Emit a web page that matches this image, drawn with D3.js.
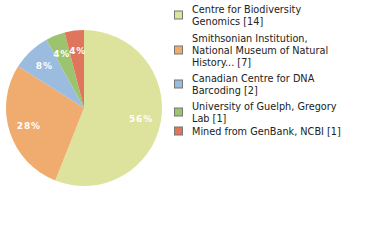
<!DOCTYPE html>
<html>
<head>
<meta charset="utf-8">
<script src="https://cdn.jsdelivr.net/npm/d3@7"></script>
<style>
  body { margin: 0; background: #fff; }
</style>
</head>
<body>
<div id="chart"></div>
<script>
// institutions and record counts
const labels = [
  ["Centre for Biodiversity", "Genomics [14]"],
  ["Smithsonian Institution,", "National Museum of Natural", "History... [7]"],
  ["Canadian Centre for DNA", "Barcoding [2]"],
  ["University of Guelph, Gregory", "Lab [1]"],
  ["Mined from GenBank, NCBI [1]"]
];
const counts = [14, 7, 2, 1, 1];
const colors = ["#dde29d", "#f0ac6e", "#9bbbdf", "#9cc46e", "#de755c"];

const width = 380, height = 240;
const cx = 84, cy = 108, radius = 78;

let svg = d3.select("#chart")
    .append("svg")
    .attr("width", width)
    .attr("height", height);

let g = svg.append("g")
    .attr("transform", `translate(${cx},${cy})`);

let pie = d3.pie().sort(null).value(function(d){ return d; });
let arcs = pie(counts);
let total = d3.sum(counts);

let arc = d3.arc().innerRadius(0).outerRadius(radius);
let labelArc = d3.arc().innerRadius(58).outerRadius(58);

g.selectAll("path")
    .data(arcs)
    .enter()
    .append("path")
    .attr("d", arc)
    .attr("fill", function(d, i){ return colors[i]; });

// label positions, small slices pushed apart a bit so they don't collide
let pos = arcs.map(function(d){ return labelArc.centroid(d); });
for (let i = 1; i < pos.length; i++) {
    let dx = pos[i][0] - pos[i-1][0], dy = pos[i][1] - pos[i-1][1];
    if (Math.abs(dx) < 16 && Math.abs(dy) < 10) {
        let push = (16 - Math.abs(dx)) / 2;
        pos[i-1][0] -= push;
        pos[i][0] += push;
    }
}

g.selectAll("text")
    .data(arcs)
    .enter()
    .append("text")
    .attr("transform", function(d, i){ return `translate(${pos[i]})`; })
    .attr("dy", "0.35em")
    .style("text-anchor", "middle")
    .style("font-family", "DejaVu Sans")
    .style("font-size", "9px")
    .style("font-weight", "bold")
    .style("letter-spacing", "0.8px")
    .style("fill", "#fff")
    .text(function(d){ return Math.round(d.value / total * 100) + "%"; });

// legend
let legendTop = [9, 38, 78, 106, 131];
let legend = svg.append("g");

labels.forEach(function(lines, i){
    let n = lines.length;
    let midY = legendTop[i] + (n - 1) * 12 / 2;
    legend.append("rect")
        .attr("x", 174.5)
        .attr("y", midY - 4)
        .attr("width", 8)
        .attr("height", 8)
        .attr("fill", colors[i])
        .attr("stroke", "#777")
        .attr("stroke-width", 1);
    let t = legend.append("text")
        .style("font-family", "DejaVu Sans Condensed, DejaVu Sans")
        .style("font-size", "10.8px")
        .style("fill", "#222");
    lines.forEach(function(line, j){
        t.append("tspan")
            .attr("x", 192)
            .attr("y", legendTop[i] + j * 12)
            .attr("dy", "0.35em")
            .text(line);
    });
});
</script>
</body>
</html>
